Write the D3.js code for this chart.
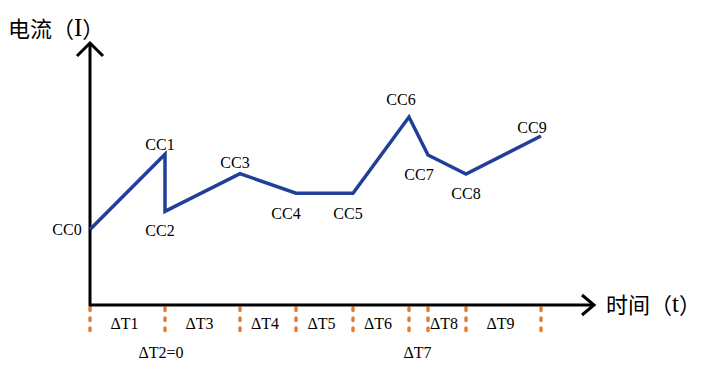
<!DOCTYPE html>
<html>
<head>
  <meta charset="UTF-8">
  <title>电流-时间</title>
  <script src="https://d3js.org/d3.v7.min.js"></script>
  <style>
    body { margin: 0; background: #fff; }
  </style>
</head>
<body>
  <div id="chart"></div>
  <script>
    // node labels and values (time in arbitrary units, current in arbitrary units)
    const nodeLabels = ["CC0", "CC1", "CC2", "CC3", "CC4", "CC5", "CC6", "CC7", "CC8", "CC9"];
    const nodeTimes = [0, 15, 15, 30, 41.2, 52.6, 63.8, 67.6, 75.2, 90.2];
    const nodeCurrents = [29, 58, 36, 50.5, 43, 43, 72.3, 57.7, 50.4, 65];

    // interval labels, one per segment between consecutive nodes
    const intervalLabels = ["ΔT1", "ΔT2=0", "ΔT3", "ΔT4", "ΔT5", "ΔT6", "ΔT7", "ΔT8", "ΔT9"];

    const serif = "Liberation Serif";
    const cjk = "Noto Sans CJK SC";

    const width = 720, height = 373;
    const svg = d3.select("#chart").append("svg")
      .attr("width", width)
      .attr("height", height);

    const x = d3.scaleLinear().domain([0, 100]).range([90, 590]);
    const y = d3.scaleLinear().domain([0, 100]).range([305, 45]);

    const nodes = nodeLabels.map((label, i) => ({ label, t: nodeTimes[i], c: nodeCurrents[i] }));

    // orange dotted boundaries below the time axis
    const bounds = Array.from(new Set(nodeTimes));
    svg.selectAll(".bound")
      .data(bounds)
      .enter().append("line")
      .attr("class", "bound")
      .attr("x1", d => x(d))
      .attr("x2", d => x(d))
      .attr("y1", y(0) + 3)
      .attr("y2", y(0) + 32)
      .attr("stroke", "#e37d35")
      .attr("stroke-width", 3.5)
      .attr("stroke-linecap", "round")
      .attr("stroke-dasharray", "2.5,7.5");

    // axes
    const axisColor = "#000";
    svg.append("line")
      .attr("x1", x(0)).attr("x2", x(100) + 4)
      .attr("y1", y(0)).attr("y2", y(0))
      .attr("stroke", axisColor).attr("stroke-width", 3);
    svg.append("line")
      .attr("x1", x(0)).attr("x2", x(0))
      .attr("y1", y(0) + 1.5).attr("y2", y(100) - 2)
      .attr("stroke", axisColor).attr("stroke-width", 3);

    // arrow heads
    svg.append("path")
      .attr("d", `M${x(0) - 13},${y(100) + 11} L${x(0)},${y(100) - 2} L${x(0) + 13},${y(100) + 11}`)
      .attr("fill", "none").attr("stroke", axisColor).attr("stroke-width", 3);
    svg.append("path")
      .attr("d", `M${x(100) - 8},${y(0) - 10} L${x(100) + 4},${y(0)} L${x(100) - 8},${y(0) + 10}`)
      .attr("fill", "none").attr("stroke", axisColor).attr("stroke-width", 3);

    // axis titles: CJK part in a CJK font, the symbol in serif
    function axisTitle(px, py, cn, sym) {
      const t = svg.append("text")
        .attr("x", px).attr("y", py)
        .attr("dominant-baseline", "central")
        .style("font-family", cjk)
        .style("font-size", "22px");
      t.append("tspan").text(cn + "（");
      t.append("tspan").style("font-family", serif).style("font-size", "25px").text(sym);
      t.append("tspan").text("）");
    }
    axisTitle(8, 27, "电流", "I");
    axisTitle(606, 303, "时间", "t");

    // current curve
    const line = d3.line().x(d => x(d.t)).y(d => y(d.c));
    svg.append("path")
      .datum(nodes)
      .attr("d", line)
      .attr("fill", "none")
      .attr("stroke", "#213f98")
      .attr("stroke-width", 3.5)
      .attr("stroke-linejoin", "miter");

    // node labels
    const labelOffsets = [[-23, 0], [-5, -10], [-5, 19], [-5, -11], [-10, 20],
                          [-5, 20], [-8, -18], [-9, 20], [0, 20], [-9, -9]];
    svg.selectAll(".node-label")
      .data(nodes)
      .enter().append("text")
      .attr("class", "node-label")
      .attr("x", (d, i) => x(d.t) + labelOffsets[i][0])
      .attr("y", (d, i) => y(d.c) + labelOffsets[i][1])
      .attr("text-anchor", "middle")
      .attr("dominant-baseline", "central")
      .style("font-family", serif)
      .style("font-size", "16px")
      .text(d => d.label);

    // interval labels (zero-width / narrow intervals dropped to a second row)
    svg.selectAll(".interval-label")
      .data(intervalLabels)
      .enter().append("text")
      .attr("class", "interval-label")
      .attr("x", (d, i) => (x(nodeTimes[i]) + x(nodeTimes[i + 1])) / 2 - (i === 1 ? 4 : i === 6 ? 1 : 3))
      .attr("y", (d, i) => (i === 1 || i === 6) ? 352 : 323)
      .attr("text-anchor", "middle")
      .attr("dominant-baseline", "central")
      .style("font-family", serif)
      .style("font-size", "16px")
      .text(d => d);
  </script>
</body>
</html>
